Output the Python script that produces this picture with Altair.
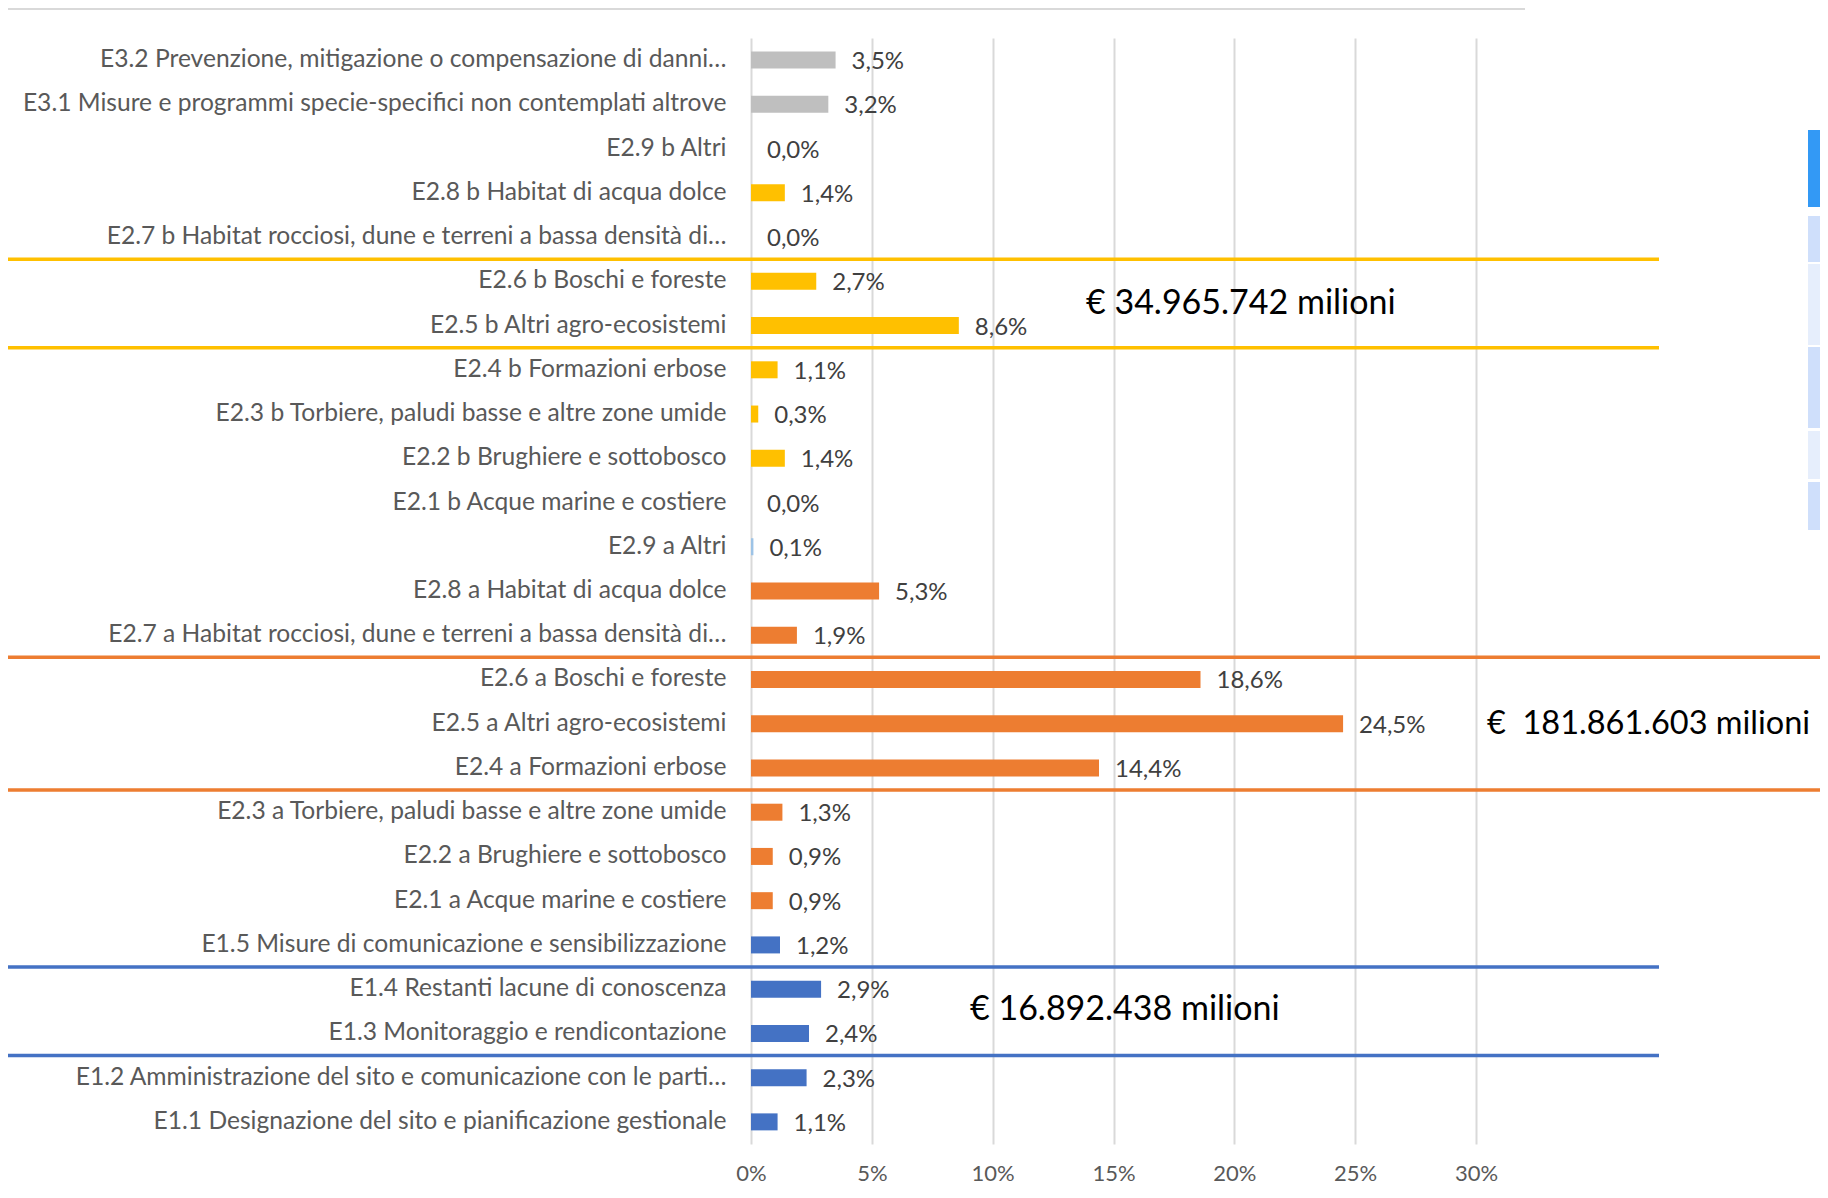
import altair as alt
import pandas as pd

categories = [
    "E3.2 Prevenzione, mitigazione o compensazione di danni…",
    "E3.1 Misure e programmi specie-specifici non contemplati altrove",
    "E2.9 b Altri",
    "E2.8 b Habitat di acqua dolce",
    "E2.7 b Habitat rocciosi, dune e terreni a bassa densità di…",
    "E2.6 b Boschi e foreste",
    "E2.5 b Altri agro-ecosistemi",
    "E2.4 b Formazioni erbose",
    "E2.3 b Torbiere, paludi basse e altre zone umide",
    "E2.2 b Brughiere e sottobosco",
    "E2.1 b Acque marine e costiere",
    "E2.9 a Altri",
    "E2.8 a Habitat di acqua dolce",
    "E2.7 a Habitat rocciosi, dune e terreni a bassa densità di…",
    "E2.6 a Boschi e foreste",
    "E2.5 a Altri agro-ecosistemi",
    "E2.4 a Formazioni erbose",
    "E2.3 a Torbiere, paludi basse e altre zone umide",
    "E2.2 a Brughiere e sottobosco",
    "E2.1 a Acque marine e costiere",
    "E1.5 Misure di comunicazione e sensibilizzazione",
    "E1.4 Restanti lacune di conoscenza",
    "E1.3 Monitoraggio e rendicontazione",
    "E1.2 Amministrazione del sito e comunicazione con le parti…",
    "E1.1 Designazione del sito e pianificazione gestionale",
]
values = [3.5, 3.2, 0.0, 1.4, 0.0, 2.7, 8.6, 1.1, 0.3, 1.4, 0.0, 0.1, 5.3, 1.9,
          18.6, 24.5, 14.4, 1.3, 0.9, 0.9, 1.2, 2.9, 2.4, 2.3, 1.1]
groups = ["E3", "E3", "E2.9", "E2 b", "E2 b", "E2 b", "E2 b", "E2 b", "E2 b", "E2 b", "E2 b",
          "E2.9", "E2 a", "E2 a", "E2 a", "E2 a", "E2 a", "E2 a", "E2 a", "E2 a",
          "E1", "E1", "E1", "E1", "E1"]
group_names = ["E3", "E2.9", "E2 b", "E2 a", "E1"]
group_colors = ["#BFBFBF", "#9DC3E6", "#FFC000", "#ED7D31", "#4472C4"]

x_ticks = [0, 5, 10, 15, 20, 25, 30]

# annotation: boundaries (row below the line) and group totals
boundary_rows = ["E2.6 b Boschi e foreste", "E2.4 b Formazioni erbose",
                 "E1.4 Restanti lacune di conoscenza", "E1.2 Amministrazione del sito e comunicazione con le parti…"]
boundary_groups = ["E2 b", "E2 b", "E1", "E1"]
boundary_rows_full = ["E2.6 a Boschi e foreste", "E2.3 a Torbiere, paludi basse e altre zone umide"]
boundary_groups_full = ["E2 a", "E2 a"]

total_texts = ["€ 34.965.742 milioni", "€\u00a0 181.861.603 milioni", "€ 16.892.438 milioni"]
total_rows = ["E2.5 b Altri agro-ecosistemi", "E2.5 a Altri agro-ecosistemi", "E1.3 Monitoraggio e rendicontazione"]

df = pd.DataFrame({"cat": categories, "value": values, "grp": groups})

FONT = "Lato"
color_scale = alt.Scale(domain=group_names, range=group_colors)
yscale = alt.Scale(paddingInner=0, paddingOuter=0)

y_enc = alt.Y(
    "cat:N", sort=categories, scale=yscale, title=None,
    axis=alt.Axis(domain=False, ticks=False, tickSize=0, labelPadding=25, labelLimit=900,
                  labelFont=FONT, labelFontSize=24.6, labelColor="#595959", grid=False),
)
x_enc = alt.X(
    "value:Q", title=None,
    scale=alt.Scale(domain=[0, 30], nice=False),
    axis=alt.Axis(values=x_ticks, labelExpr="datum.value + '%'", domain=False, ticks=False,
                  tickSize=0, labelPadding=19, labelFont=FONT, labelFontSize=22, labelFlush=False,
                  labelColor="#595959", grid=True, gridColor="#D9D9D9", gridWidth=2),
)

base = alt.Chart(df)
bars = base.mark_bar(size=17).encode(
    x=x_enc, y=y_enc,
    color=alt.Color("grp:N", scale=color_scale, legend=None),
)
labels = base.transform_calculate(
    lbl="replace(format(datum.value, '.1f'), '.', ',') + '%'"
).mark_text(align="left", baseline="middle", dx=16, dy=2, font=FONT,
            fontSize=24, color="#404040").encode(
    x="value:Q", y=alt.Y("cat:N", sort=categories), text="lbl:N",
)

rules_df = pd.DataFrame({"cat": boundary_rows, "grp": boundary_groups})
rules = alt.Chart(rules_df).mark_rule(strokeWidth=3.5).encode(
    y=alt.Y("cat:N", sort=categories, bandPosition=0),
    x=alt.value(-743), x2=alt.value(908),
    color=alt.Color("grp:N", scale=color_scale, legend=None),
)
rules_full_df = pd.DataFrame({"cat": boundary_rows_full, "grp": boundary_groups_full})
rules_full = alt.Chart(rules_full_df).mark_rule(strokeWidth=3.5).encode(
    y=alt.Y("cat:N", sort=categories, bandPosition=0),
    x=alt.value(-743), x2=alt.value(1100),
    color=alt.Color("grp:N", scale=color_scale, legend=None),
)

t1 = alt.Chart(pd.DataFrame({"cat": [total_rows[0]], "t": [total_texts[0]]})).mark_text(
    align="left", baseline="middle", font=FONT, fontSize=34, color="#000000", dy=1
).encode(y=alt.Y("cat:N", sort=categories, bandPosition=0), x=alt.value(335), text="t:N")
t2 = alt.Chart(pd.DataFrame({"cat": [total_rows[1]], "t": [total_texts[1]]})).mark_text(
    align="left", baseline="middle", font=FONT, fontSize=32.5, color="#000000"
).encode(y=alt.Y("cat:N", sort=categories, bandPosition=0.5), x=alt.value(736), text="t:N")
t3 = alt.Chart(pd.DataFrame({"cat": [total_rows[2]], "t": [total_texts[2]]})).mark_text(
    align="left", baseline="middle", font=FONT, fontSize=34, color="#000000", dy=-1
).encode(y=alt.Y("cat:N", sort=categories, bandPosition=0), x=alt.value(219), text="t:N")

top_line = alt.Chart(df).mark_rule(color="#D9D9D9", strokeWidth=2).encode(
    x=alt.value(-743), x2=alt.value(774), y=alt.value(-29)
)

# cropped slicer panel at the right edge (decoration)
deco = []
for y0, y1, c in [(92, 169, "#3399F5"), (178, 224, "#CFDFFB"), (226, 307, "#E6EEFC"),
                  (309, 390, "#CFDFFB"), (393, 441, "#E6EEFC"), (444, 492, "#CFDFFB")]:
    deco.append(alt.Chart(df).mark_rect(color=c).encode(
        x=alt.value(1057), x2=alt.value(1100), y=alt.value(y0), y2=alt.value(y1)))

chart = alt.layer(bars, labels, rules, rules_full, t1, t2, t3, top_line, *deco).properties(
    width=725, height=1106,
    padding={"left": 743, "top": 30, "right": 344, "bottom": 50},
    autosize=alt.AutoSizeParams(type="none"),
    background="white",
).configure_view(stroke=None)

chart.save("out.html", embed_options={"renderer": "svg", "actions": False})
